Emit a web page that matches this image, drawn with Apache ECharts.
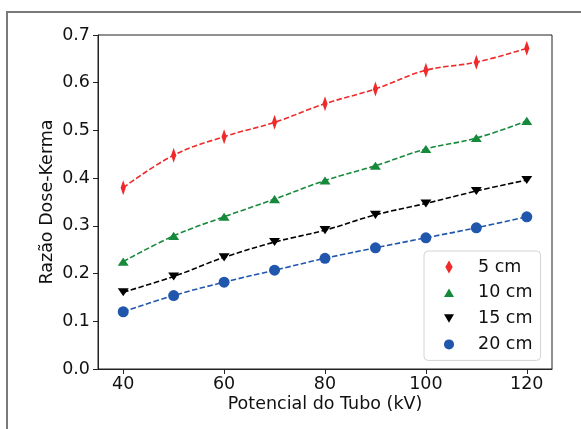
<!DOCTYPE html>
<html>
<head>
<meta charset="utf-8">
<script src="https://cdn.jsdelivr.net/npm/echarts@6/dist/echarts.min.js"></script>
<style>html,body{margin:0;padding:0;background:#fff}#c{width:581px;height:429px}</style>
</head>
<body>
<div id="c"></div>
<script>
const kv = [40, 50, 60, 70, 80, 90, 100, 110, 120];
const d5  = [0.380, 0.448, 0.487, 0.517, 0.556, 0.587, 0.626, 0.643, 0.672];
const d10 = [0.225, 0.279, 0.319, 0.356, 0.395, 0.426, 0.461, 0.484, 0.520];
const d15 = [0.161, 0.194, 0.234, 0.266, 0.291, 0.323, 0.347, 0.373, 0.396];
const d20 = [0.120, 0.154, 0.182, 0.207, 0.232, 0.254, 0.275, 0.296, 0.319];
const names = ['5 cm', '10 cm', '15 cm', '20 cm'];
const xTicks = [40, 60, 80, 100, 120];

const FONT = 'DejaVu Sans';
const colors = ['#ee2a2a', '#16893b', '#000000', '#2156ad'];
const DIAMOND = 'path://M4,0L8,7L4,14L0,7Z';
const TRI_UP = 'path://M5,0L10,8.5L0,8.5Z';
const TRI_DN = 'path://M0,0L10,0L5,8.5Z';
const symbols = [DIAMOND, TRI_UP, TRI_DN, 'circle'];
const sizes = [[9, 15], [11, 9.5], [11, 9.5], 11];
const sets = [d5, d10, d15, d20];

const series = [];
sets.forEach((arr, i) => {
  series.push({
    name: 'fit' + i,
    type: 'line',
    data: kv.map((x, j) => [x, arr[j]]),
    smooth: 0.4,
    showSymbol: false,
    symbol: 'none',
    silent: true,
    lineStyle: { color: colors[i], width: 1.6, type: [5.5, 2.5] },
    z: 2
  });
  series.push({
    name: names[i],
    type: 'scatter',
    data: kv.map((x, j) => [x, arr[j]]),
    symbol: symbols[i],
    symbolSize: sizes[i],
    symbolKeepAspect: true,
    itemStyle: { color: colors[i], opacity: 1 },
    z: 3
  });
});

const chart = echarts.init(document.getElementById('c'), null, { renderer: 'canvas' });
chart.setOption({
  animation: false,
  backgroundColor: '#fff',
  textStyle: { fontFamily: FONT },
  graphic: [{
    type: 'rect',
    shape: { x: 7, y: 12, width: 700, height: 480 },
    style: { fill: 'none', stroke: '#7a7a7a', lineWidth: 2 },
    silent: true, z: -10
  }],
  grid: {
    left: 98, right: 29, top: 35, bottom: 60,
    show: true, borderColor: '#222', borderWidth: 1, backgroundColor: 'transparent'
  },
  legend: {
    orient: 'vertical',
    left: 424, top: 251,
    data: names.map((n, i) => ({ name: n, icon: symbols[i] })),
    itemWidth: 10, itemHeight: 13,
    itemGap: 5.8,
    padding: [6, 8, 6, 20],
    backgroundColor: '#fff',
    borderColor: '#d4d4d4', borderWidth: 1, borderRadius: 4,
    textStyle: { fontFamily: FONT, fontSize: 17.5, color: '#111', lineHeight: 20, padding: [0, 0, 0, 19] }
  },
  xAxis: {
    type: 'value', min: 35, max: 125,
    name: 'Potencial do Tubo (kV)', nameLocation: 'middle', nameGap: 26,
    nameMoveOverlap: false,
    nameTextStyle: { fontFamily: FONT, fontSize: 17.5, color: '#111' },
    axisLine: { show: true, lineStyle: { color: '#222', width: 1 } },
    axisTick: { show: true, inside: false, length: 5, customValues: xTicks, lineStyle: { color: '#222' } },
    axisLabel: { customValues: xTicks, margin: 6, fontFamily: FONT, fontSize: 17.5, color: '#111' },
    splitLine: { show: false }
  },
  yAxis: {
    type: 'value', min: 0, max: 0.7, interval: 0.1,
    name: 'Razão Dose-Kerma', nameLocation: 'middle', nameGap: 42,
    nameMoveOverlap: false,
    nameTextStyle: { fontFamily: FONT, fontSize: 17.5, color: '#111' },
    axisLine: { show: true, lineStyle: { color: '#222', width: 1 } },
    axisTick: { show: true, inside: false, length: 5, lineStyle: { color: '#222' } },
    axisLabel: { margin: 8, fontFamily: FONT, fontSize: 17.5, color: '#111', formatter: v => v.toFixed(1) },
    splitLine: { show: false }
  },
  series: series
});
</script>
</body>
</html>
